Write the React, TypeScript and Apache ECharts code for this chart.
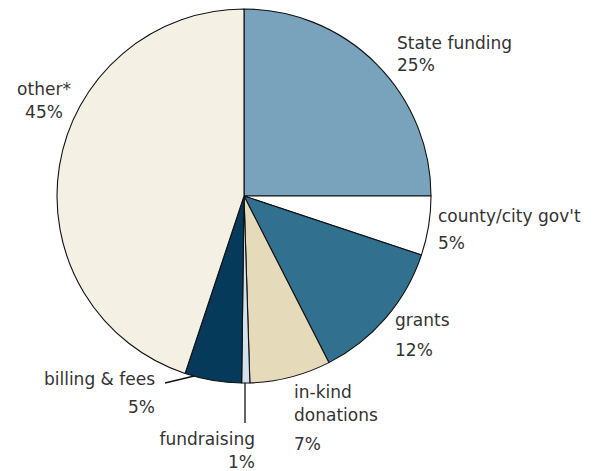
import React, { useEffect, useRef } from "react";
import * as echarts from "echarts";

// ---- data ----
const categories = [
  "State funding",
  "county/city gov't",
  "grants",
  "in-kind\ndonations",
  "fundraising",
  "billing & fees",
  "other*",
];
const shares = [25.0, 5.1, 12.4, 7.0, 0.7, 4.9, 44.9];
const pctLabels = ["25%", "5%", "12%", "7%", "1%", "5%", "45%"];

// ---- styles / layout ----
const colors = ["#79a3bd", "#ffffff", "#31718f", "#e5dbbb", "#d3e2ee", "#053a5a", "#f5f0e4"];
const labelX = [397, 438, 395, 294, 255, 155, 44];
const labelTop = [32, 205, 309, 380, 428, 368, 78];
const labelAlign = ["left", "left", "left", "left", "right", "right", "center"];
const nameLH = [22, 22, 22, 23, 22, 22, 22];
const pctLH = [22, 32, 38, 35, 24, 34, 24];
const leaderLines: Record<number, number[][]> = {
  4: [[245, 372], [245, 398], [245, 423]],
  5: [[215, 371], [190, 377], [165, 383]],
};

const FONT = "DejaVu Sans";
const TEXT_COLOR = "#333333";
const FS = 17;

export default function App() {
  const ref = useRef<HTMLDivElement>(null);
  useEffect(() => {
    if (!ref.current) return;
    const chart = echarts.init(ref.current, undefined, { renderer: "svg" });
    const rich: Record<string, any> = {};
    categories.forEach((_, i) => {
      rich["n" + i] = {
        fontFamily: FONT,
        fontSize: FS,
        color: TEXT_COLOR,
        lineHeight: nameLH[i],
        align: labelAlign[i],
      };
      rich["p" + i] = {
        fontFamily: FONT,
        fontSize: FS,
        color: TEXT_COLOR,
        lineHeight: pctLH[i],
        align: labelAlign[i],
      };
    });
    const data = categories.map((name, i) => ({
      name,
      value: shares[i],
      itemStyle: { color: colors[i] },
      labelLine: { show: !!leaderLines[i] },
    }));
    chart.setOption({
      animation: false,
      backgroundColor: "#ffffff",
      series: [
        {
          type: "pie",
          center: [244, 196],
          radius: 187,
          startAngle: 90,
          clockwise: true,
          silent: true,
          avoidLabelOverlap: false,
          data,
          itemStyle: { borderColor: "#111111", borderWidth: 1.1 },
          emphasis: { disabled: true },
          label: {
            show: true,
            position: "outside",
            fontFamily: FONT,
            fontSize: FS,
            color: TEXT_COLOR,
            formatter: (p: any) => {
              const i = p.dataIndex;
              const lines = String(p.name)
                .split("\n")
                .map((s: string) => `{n${i}|${s}}`);
              return lines.join("\n") + `\n{p${i}|${pctLabels[i]}}`;
            },
            rich,
          },
          labelLine: {
            show: true,
            lineStyle: { color: "#111111", width: 1.3 },
          },
          labelLayout: (params: any) => {
            const i = params.dataIndex;
            const out: any = {
              x: labelX[i],
              y: labelTop[i],
              align: labelAlign[i],
              verticalAlign: "top",
            };
            if (leaderLines[i]) out.labelLinePoints = leaderLines[i];
            return out;
          },
        },
      ],
    });
    return () => chart.dispose();
  }, []);
  return (
    <div
      ref={ref}
      style={{ position: "absolute", left: 0, top: 0, width: 594, height: 471 }}
    />
  );
}
